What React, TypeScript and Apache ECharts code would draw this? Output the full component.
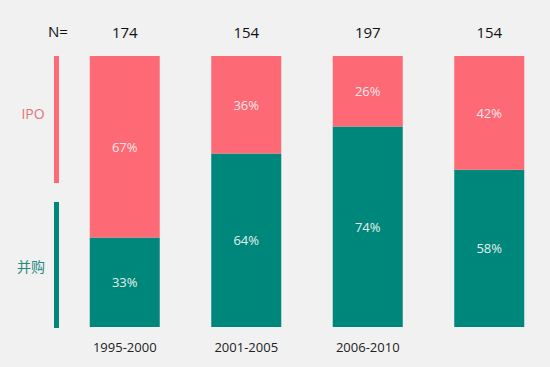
import React, { useEffect, useRef } from "react";
import * as echarts from "echarts";

const categories = ["1995-2000", "2001-2005", "2006-2010", "2011-2015"];
const categoryLabels = ["1995-2000", "2001-2005", "2006-2010", ""];
const nValues = ["174", "154", "197", "154"];
const ipoShare = [67, 36, 26, 42];
const maShare = [33, 64, 74, 58];

const PINK = "#fd6a76";
const TEAL = "#00877b";
const BG = "#f1f1f1";
const FONT = "'Open Sans', 'Noto Sans CJK SC', sans-serif";

export default function App() {
  const ref = useRef<HTMLDivElement>(null);
  useEffect(() => {
    if (!ref.current) return;
    const chart = echarts.init(ref.current, undefined, { renderer: "svg" });
    chart.setOption({
      animation: false,
      backgroundColor: BG,
      grid: { left: 64, top: 56, width: 488, height: 271 },
      xAxis: [
        {
          type: "category",
          data: categories,
          position: "bottom",
          axisLine: { show: false },
          axisTick: { show: false },
          axisLabel: {
            margin: 13,
            fontSize: 13,
            color: "#222",
            fontFamily: FONT,
            formatter: (_v: string, i: number) => categoryLabels[i],
          },
        },
        {
          type: "category",
          data: nValues,
          position: "top",
          axisLine: { show: false },
          axisTick: { show: false },
          axisLabel: { margin: 17, fontSize: 15, color: "#111", fontFamily: FONT },
        },
      ],
      yAxis: {
        type: "value",
        min: 0,
        max: 100,
        show: false,
      },
      series: [
        {
          name: "并购",
          type: "bar",
          stack: "s",
          barWidth: 70,
          data: maShare,
          itemStyle: { color: TEAL },
          label: {
            show: true,
            position: "inside",
            formatter: "{c}%",
            color: "#e6efee",
            fontSize: 13,
            fontFamily: FONT,
          },
        },
        {
          name: "IPO",
          type: "bar",
          stack: "s",
          barWidth: 70,
          data: ipoShare,
          itemStyle: { color: PINK },
          label: {
            show: true,
            position: "inside",
            formatter: "{c}%",
            color: "#f6e6e8",
            fontSize: 13,
            fontFamily: FONT,
          },
        },
      ],
      graphic: [
        { type: "rect", shape: { x: 54, y: 56, width: 5, height: 127 }, style: { fill: PINK } },
        { type: "rect", shape: { x: 54, y: 202, width: 5, height: 126 }, style: { fill: TEAL } },
        {
          type: "text",
          x: 33,
          y: 113,
          style: { text: "IPO", fill: "#e2737c", fontSize: 14, fontFamily: FONT, align: "center", verticalAlign: "middle" },
        },
        {
          type: "text",
          x: 31,
          y: 266,
          style: { text: "并购", fill: "#1f8a80", fontSize: 14, fontFamily: FONT, align: "center", verticalAlign: "middle" },
        },
        {
          type: "text",
          x: 58,
          y: 31,
          style: { text: "N=", fill: "#111", fontSize: 15, fontFamily: FONT, align: "center", verticalAlign: "middle" },
        },
      ],
    });
    return () => chart.dispose();
  }, []);
  return (
    <div
      ref={ref}
      style={{ position: "fixed", left: 0, top: 0, width: 550, height: 367, background: BG }}
    />
  );
}
